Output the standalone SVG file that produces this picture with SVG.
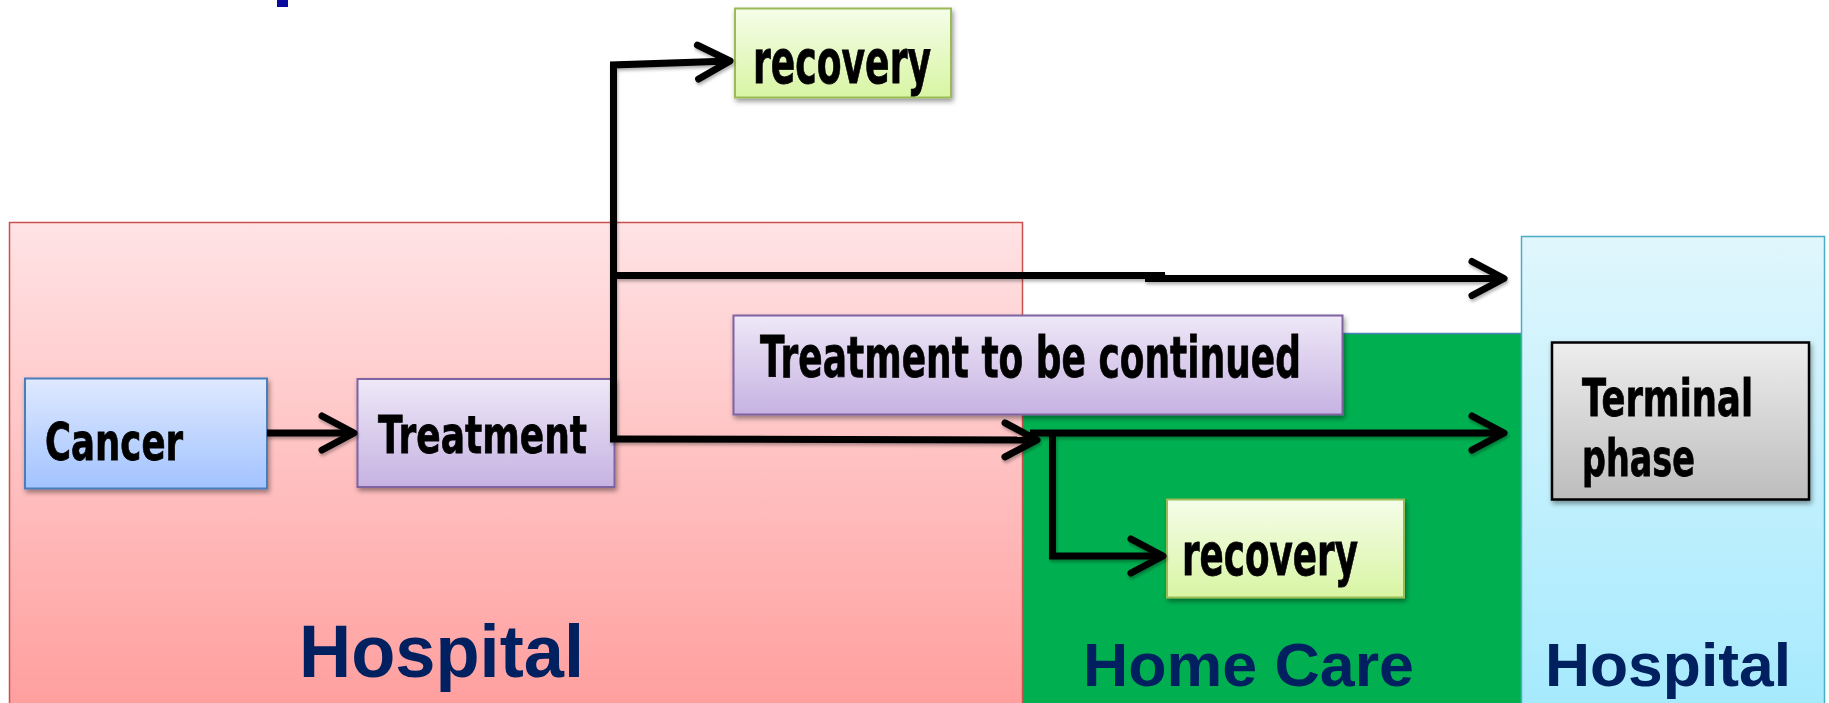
<svg xmlns="http://www.w3.org/2000/svg" width="1829" height="703" viewBox="0 0 1829 703">
  <defs>
    <linearGradient id="gPink" x1="0" y1="0" x2="0" y2="1">
      <stop offset="0" stop-color="#ffe3e5"/>
      <stop offset="1" stop-color="#ff9f9e"/>
    </linearGradient>
    <linearGradient id="gBlueReg" x1="0" y1="0" x2="0" y2="1">
      <stop offset="0" stop-color="#e0f6fc"/>
      <stop offset="1" stop-color="#a6eafe"/>
    </linearGradient>
    <linearGradient id="gCancer" x1="0" y1="0" x2="0" y2="1">
      <stop offset="0" stop-color="#dfe9ff"/>
      <stop offset="1" stop-color="#a2c3ff"/>
    </linearGradient>
    <linearGradient id="gPurple" x1="0" y1="0" x2="0" y2="1">
      <stop offset="0" stop-color="#eee8f7"/>
      <stop offset="1" stop-color="#c6b2e2"/>
    </linearGradient>
    <linearGradient id="gGreen" x1="0" y1="0" x2="0" y2="1">
      <stop offset="0" stop-color="#f5fde9"/>
      <stop offset="1" stop-color="#d8f5a3"/>
    </linearGradient>
    <linearGradient id="gGray" x1="0" y1="0" x2="0" y2="1">
      <stop offset="0" stop-color="#ededed"/>
      <stop offset="1" stop-color="#bdbdbd"/>
    </linearGradient>
    <filter id="shadow" x="-10%" y="-10%" width="125%" height="135%">
      <feDropShadow dx="1.5" dy="3" stdDeviation="2.5" flood-color="#000" flood-opacity="0.4"/>
    </filter>
    <filter id="lshadow" x="-5%" y="-5%" width="110%" height="120%">
      <feDropShadow dx="1" dy="2.5" stdDeviation="1.5" flood-color="#000" flood-opacity="0.3"/>
    </filter>
    <marker id="chev" markerUnits="userSpaceOnUse" markerWidth="50" markerHeight="50" viewBox="-40 -25 50 50" refX="0" refY="0" orient="auto" overflow="visible">
      <path d="M-32,-17 L0,0 L-32,17" fill="none" stroke="#000" stroke-width="7" stroke-linecap="round" stroke-linejoin="round"/>
    </marker>
  </defs>
  <style>
    .node { filter: url(#shadow); }
    .lbl { font-family: "DejaVu Sans", "Liberation Sans", sans-serif; font-weight: bold; fill: #000; stroke: #000; stroke-width: 0.8; }
    .region { font-family: "Liberation Sans", Arial, sans-serif; font-weight: bold; fill: #002060; }
    .conn path { fill: none; stroke: #000; stroke-width: 7; stroke-linejoin: miter; }
  </style>

  <rect width="1829" height="703" fill="#ffffff"/>
  <rect x="277" y="0" width="11" height="7" fill="#0a0a9c"/>

  <g id="region-homecare">
    <rect x="1022" y="333" width="500" height="372" fill="#00b050"/>
    <line x1="1022" y1="333.5" x2="1522" y2="333.5" stroke="#4f81bd" stroke-width="1.5"/>
    <text class="region" x="1083" y="686" font-size="62" textLength="331" lengthAdjust="spacingAndGlyphs">Home Care</text>
  </g>

  <g id="region-hospital-left">
    <rect x="9.5" y="222.5" width="1013" height="484" fill="url(#gPink)" stroke="#c9514e" stroke-width="1.5"/>
    <text class="region" x="299" y="677" font-size="75" textLength="285" lengthAdjust="spacingAndGlyphs">Hospital</text>
  </g>

  <g id="region-hospital-right">
    <rect x="1521.5" y="236.5" width="303" height="470" fill="url(#gBlueReg)" stroke="#4bacc6" stroke-width="1.5"/>
    <text class="region" x="1545" y="686" font-size="62" textLength="246" lengthAdjust="spacingAndGlyphs">Hospital</text>
  </g>

  <g id="node-cancer" class="node">
    <rect x="25" y="378.5" width="242" height="110" fill="url(#gCancer)" stroke="#4a7ebb" stroke-width="2"/>
    <text class="lbl" x="45" y="460" font-size="52" textLength="138" lengthAdjust="spacingAndGlyphs">Cancer</text>
  </g>

  <g id="node-treatment" class="node">
    <rect x="357.5" y="379" width="257" height="108" fill="url(#gPurple)" stroke="#7f63a1" stroke-width="2"/>
    <text class="lbl" x="378" y="453" font-size="52" textLength="209" lengthAdjust="spacingAndGlyphs">Treatment</text>
  </g>

  <g id="node-recovery-top" class="node">
    <rect x="735" y="8.5" width="216" height="89" fill="url(#gGreen)" stroke="#9bbb59" stroke-width="2"/>
    <text class="lbl" x="753" y="83" font-size="60" textLength="178" lengthAdjust="spacingAndGlyphs">recovery</text>
  </g>

  <g id="node-continued" class="node">
    <rect x="733.5" y="315.5" width="609" height="99" fill="url(#gPurple)" stroke="#7f63a1" stroke-width="2"/>
    <text class="lbl" x="760" y="377" font-size="57" textLength="541" lengthAdjust="spacingAndGlyphs">Treatment to be continued</text>
  </g>

  <g id="node-terminal" class="node">
    <rect x="1552" y="342.5" width="257" height="157" fill="url(#gGray)" stroke="#000" stroke-width="2.5"/>
    <text class="lbl" transform="translate(1582 416) scale(0.676 1)" x="0" y="0" font-size="51" textLength="253" lengthAdjust="spacingAndGlyphs">Terminal</text>
    <text class="lbl" transform="translate(1582 476) scale(0.676 1)" x="0" y="0" font-size="51" textLength="167" lengthAdjust="spacingAndGlyphs">phase</text>
  </g>

  <g id="node-recovery-bottom" class="node">
    <rect x="1167" y="499.5" width="237" height="98" fill="url(#gGreen)" stroke="#9bbb59" stroke-width="2"/>
    <text class="lbl" x="1182" y="575" font-size="58" textLength="176" lengthAdjust="spacingAndGlyphs">recovery</text>
  </g>

  <g id="connectors" class="conn" filter="url(#lshadow)">
    <path d="M267,433 L354,433" marker-end="url(#chev)"/>
    <path d="M613.5,440 L613.5,65 L730,61" marker-end="url(#chev)"/>
    <path d="M610,275.5 L1165,275.5"/>
    <path d="M1145,278.5 L1504,278.5" marker-end="url(#chev)"/>
    <path d="M610,439 L1037,440" marker-end="url(#chev)"/>
    <path d="M1030,433 L1504,433" marker-end="url(#chev)"/>
    <path d="M1052.5,434 L1052.5,556 L1163,556" marker-end="url(#chev)"/>
  </g>
</svg>
